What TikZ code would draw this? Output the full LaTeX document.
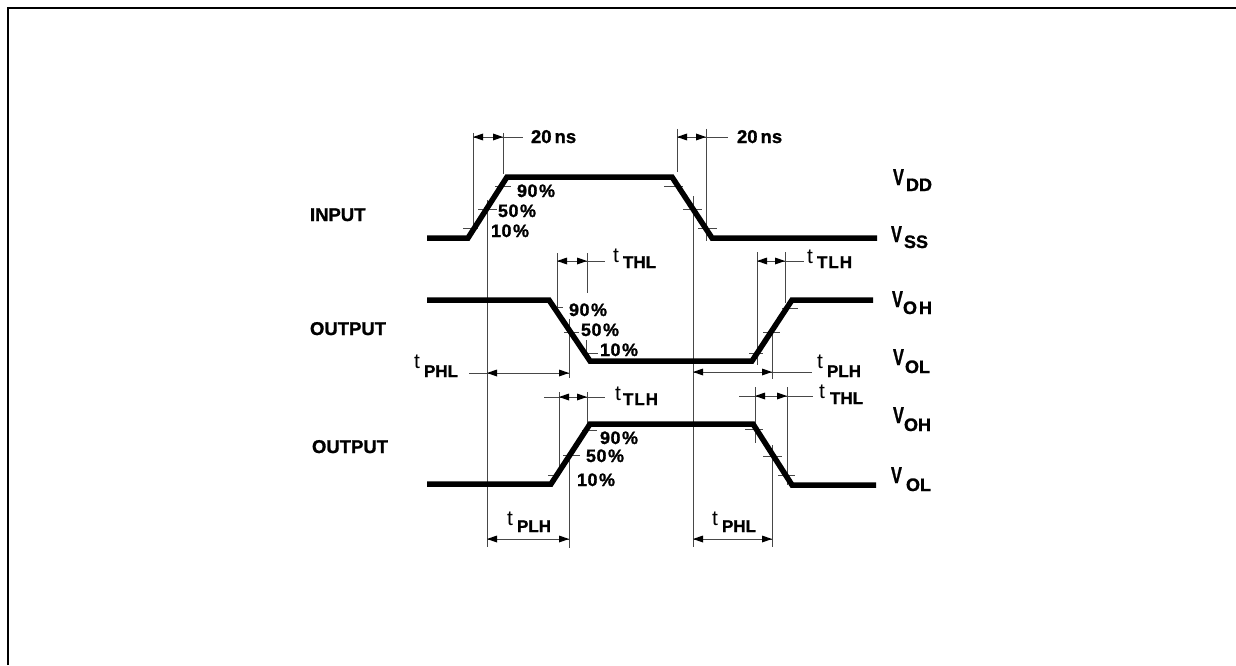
\documentclass[tikz,border=0pt]{standalone}
\usepackage{fontspec}
\setmainfont[BoldFeatures={FakeBold=1.2}]{Liberation Sans}
\usetikzlibrary{arrows.meta}
\newcommand{\szA}{\fontsize{18.5}{20}\selectfont\bfseries}
\newcommand{\tl}[6]{\node[txt] (#1) at (#2) {\fontsize{21}{22}\selectfont\makebox[#3pt][l]{#5}\raisebox{-#4pt}{\fontsize{17}{20}\selectfont\bfseries #6}};}
\newcommand{\vl}[5]{\node[txt] (#1) at (#2) {\fontsize{20}{22}\selectfont\bfseries\makebox[#3pt][l]{\scalebox{.82}[1.15]{V}}\raisebox{-#4pt}{\fontsize{18}{20}\selectfont #5}};}
\newcommand{\pct}[4]{\node[txt] (#1) at (#2) {\fontsize{18}{20}\selectfont\bfseries #3\hspace{0.5pt}#4\hspace{1.5pt}\%};}
\tikzset{
  x=1pt,y=-1pt,
  wave/.style={line width=5.5pt,miter limit=10,line join=miter},
  thinl/.style={line width=1pt,black!72},
  frameline/.style={line width=2pt},
  txt/.style={inner sep=0pt,outer sep=0pt,anchor=base west,text=black},
  dimtip/.style={fill=black,draw=none},
}
\newcommand{\dimarrow}[5]{%
  \coordinate (#1s) at (#2,#4);\coordinate (#1e) at (#3,#4);
  \draw[thinl] (#1s) -- (#1e);
  \fill[dimtip] (#1s) -- ++(10,-3.5) -- ++(0,7) -- cycle;
  \fill[dimtip] (#1e) -- ++(-10,-3.5) -- ++(0,7) -- cycle;}
\begin{document}
\begin{tikzpicture}
\useasboundingbox (0,0) rectangle (1236,666);
\fill[white] (0,0) rectangle (1236,666);
\draw[frameline] (8,665) -- (8,8) -- (1236,8);
% long verticals and extension lines
\draw[thinl] (473,133) -- (473,231);
\draw[thinl] (503,133) -- (503,174);
\draw[thinl] (677,129) -- (677,172);
\draw[thinl] (706,129) -- (706,241);
\draw[thinl] (487,200) -- (487,547);
\draw[thinl] (693,196) -- (693,547);
\draw[thinl] (557,253) -- (557,310);
\draw[thinl] (587,253) -- (587,293);
\draw[thinl] (586,340) -- (586,358);
\draw[thinl] (569,319) -- (569,378);
\draw[thinl] (559,392) -- (559,473);
\draw[thinl] (587,392) -- (587,423);
\draw[thinl] (569,453) -- (569,548);
\draw[thinl] (757,252) -- (757,365);
\draw[thinl] (785,252) -- (785,303);
\draw[thinl] (772,332) -- (772,379);
\draw[thinl] (755,387) -- (755,443);
\draw[thinl] (787,387) -- (787,485);
\draw[thinl] (772,445) -- (772,547);
% percent ticks
\foreach \a/\b/\y in {463/478/228,478/497/209,495/511/186,664/683/186,683/702/209,698/717/228,
 552/563/307,564/579/332,583/598/353,749/763/353,763/780/332,782/798/308,
 582/597/430,563/580/455,548/560/475,745/763/429,763/782/456,778/795/475}
  \draw[thinl] (\a,\y) -- (\b,\y);
% leaders
\draw[thinl] (503,137) -- (523,137);
\draw[thinl] (706,137) -- (728,137);
\draw[thinl] (587,261) -- (605,261);
\draw[thinl] (785,261) -- (804,261);
\draw[thinl] (469,373) -- (487,373);
\draw[thinl] (772,372) -- (812,372);
\draw[thinl] (544,397) -- (559,397);
\draw[thinl] (587,397) -- (605,397);
\draw[thinl] (739,396) -- (755,396);
\draw[thinl] (787,396) -- (813,396);
% dimension arrows
\dimarrow{arrA}{473}{503}{137}{}
\dimarrow{arrB}{677}{706}{137}{}
\dimarrow{arrC}{557}{587}{261}{}
\dimarrow{arrD}{757}{785}{261}{}
\dimarrow{arrE}{487}{569}{373}{}
\dimarrow{arrF}{693}{772}{372}{}
\dimarrow{arrG}{559}{587}{397}{}
\dimarrow{arrH}{755}{787}{396}{}
\dimarrow{arrI}{487}{569}{539}{}
\dimarrow{arrJ}{693}{772}{539}{}
% waveforms
\draw[wave] (427,238) -- (468,238) -- (507,177) -- (672,177) -- (712,238) -- (877,238);
\draw[wave] (427,300) -- (549,300) -- (590,361) -- (752,361) -- (792,300) -- (873,300);
\draw[wave] (427,484) -- (551,484) -- (590,424) -- (753,424) -- (792,485) -- (876,485);
% labels
\node[txt,font=\szA] (linput) at (310,221) {INPUT};
\node[txt,font=\szA] (lout1) at (310,335) {OUTPUT};
\node[txt,font=\szA] (lout2) at (312,453) {OUTPUT};
\node[txt,font=\szA] (ns1) at (531,143) {20\hspace{3pt}ns};
\node[txt,font=\szA] (ns2) at (737,143) {20\hspace{3pt}ns};
\pct{pa}{517,197}{9}{0}
\pct{pb}{498,217}{5}{0}
\pct{pc}{491,237}{1}{0}
\pct{pd}{569,316}{9}{0}
\pct{pe}{581,336}{5}{0}
\pct{pf}{600,356}{1}{0}
\pct{pg}{600,444}{9}{0}
\pct{ph}{586,462}{5}{0}
\pct{pi}{577,486}{1}{0}
\tl{ta}{414,368}{10}{9}{t}{PHL}
\tl{tb}{613,262}{10}{6}{t}{THL}
\tl{tc}{807,263}{10}{5}{t}{T\hspace{1pt}L\hspace{1pt}H}
\tl{td}{817,368}{10}{9}{t}{PLH}
\tl{te}{615,400}{8}{5}{t}{T\hspace{1pt}L\hspace{1pt}H}
\tl{tf}{819,398}{11}{6}{t}{THL}
\tl{tg}{507,525}{10}{7}{t}{PLH}
\tl{th}{712,525}{10}{7}{t}{PHL}
\vl{va}{893,185}{13}{6}{DD}
\vl{vb}{891,242}{13}{6}{SS}
\vl{vc}{892,307}{11}{7}{O\hspace{2pt}H}
\vl{vd}{893,365}{12}{8}{OL}
\vl{ve}{893,423}{11}{8}{OH}
\vl{vf}{891,483}{15}{8}{OL}
\end{tikzpicture}
\end{document}
